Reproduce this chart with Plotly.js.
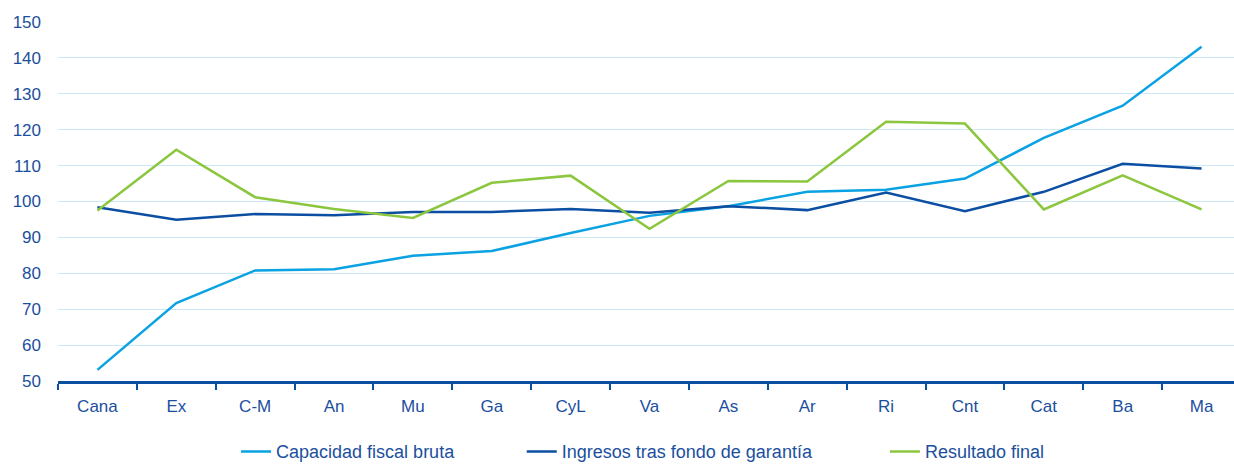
<!DOCTYPE html>
<html>
<head>
<meta charset="utf-8">
<script src="https://cdn.plot.ly/plotly-3.0.1.min.js"></script>
<style>
html,body{margin:0;padding:0;overflow:hidden;background:#fff;}
#chart{width:1250px;height:464px;}
</style>
</head>
<body>
<div id="chart"></div>
<script>
const categories = ["Cana","Ex","C-M","An","Mu","Ga","CyL","Va","As","Ar","Ri","Cnt","Cat","Ba","Ma"];
const capacidadFiscalBruta = [53.1,71.7,80.8,81.1,84.9,86.2,91.2,96.0,98.7,102.7,103.3,106.4,117.7,126.7,143.1];
const ingresosTrasFondo = [98.4,94.9,96.5,96.2,97.1,97.1,97.9,96.9,98.7,97.6,102.5,97.3,102.7,110.5,109.2];
const resultadoFinal = [97.5,114.4,101.2,97.9,95.4,105.2,107.2,92.4,105.7,105.6,122.2,121.7,97.8,107.3,97.8];
const seriesNames = ["Capacidad fiscal bruta","Ingresos tras fondo de garantía","Resultado final"];
const yTicks = [50,60,70,80,90,100,110,120,130,140,150];

const textColor = "#1b4f9e";
const fam = "Liberation Sans, Arial, sans-serif";

const traces = [
  {x:categories, y:capacidadFiscalBruta, name:seriesNames[0], type:"scatter", mode:"lines",
   line:{color:"#0aa2e2", width:2.5}, legend:"legend"},
  {x:categories, y:ingresosTrasFondo, name:seriesNames[1], type:"scatter", mode:"lines",
   line:{color:"#0b4ea2", width:2.5}, legend:"legend2"},
  {x:categories, y:resultadoFinal, name:seriesNames[2], type:"scatter", mode:"lines",
   line:{color:"#8cc63f", width:2.5}, legend:"legend3"}
];

const legBase = {orientation:"h", yanchor:"middle", y:-0.197, xanchor:"left",
  font:{family:fam, size:18, color:textColor}, bgcolor:"rgba(0,0,0,0)", borderwidth:0};

const layout = {
  width:1250, height:464,
  margin:{l:58, r:9, t:22, b:83, autoexpand:false},
  paper_bgcolor:"#fff", plot_bgcolor:"#fff",
  font:{family:fam, size:17, color:textColor},
  showlegend:true,
  legend:Object.assign({}, legBase, {x:0.1505}),
  legend2:Object.assign({}, legBase, {x:0.392}),
  legend3:Object.assign({}, legBase, {x:0.699}),
  xaxis:{type:"category", categoryorder:"array", categoryarray:categories,
    range:[-0.5, categories.length-0.5], automargin:false,
    tickson:"boundaries", ticks:"outside", ticklen:6, tickwidth:2, tickcolor:"#0b4ea2",
    showline:true, linecolor:"#0b4ea2", linewidth:3, showgrid:false, zeroline:false,
    ticklabelstandoff:8,
    tickfont:{family:fam, size:17, color:textColor}, fixedrange:true},
  yaxis:{range:[50,150], tickvals:yTicks, ticktext:yTicks.map(String), automargin:false,
    showgrid:true, gridcolor:"#cbe9f8", gridwidth:1, zeroline:false, showline:false,
    ticks:"", ticklabelstandoff:16,
    tickfont:{family:fam, size:17, color:textColor}, fixedrange:true}
};

Plotly.newPlot("chart", traces, layout, {displayModeBar:false, staticPlot:true});
</script>
</body>
</html>
